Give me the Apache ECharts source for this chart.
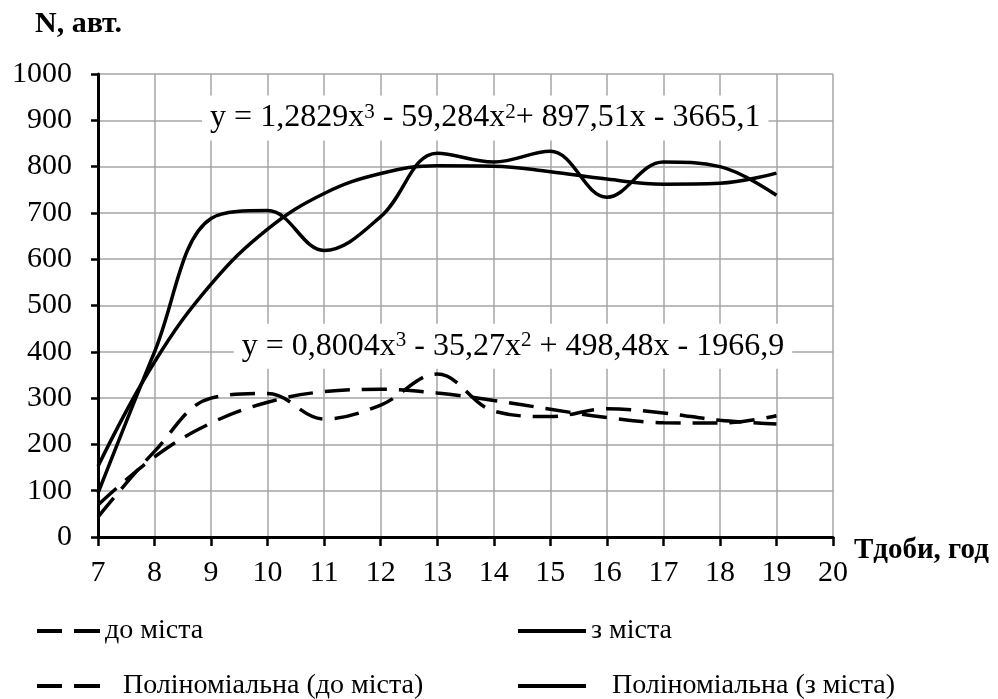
<!DOCTYPE html>
<html>
<head>
<meta charset="utf-8">
<script src="https://cdn.jsdelivr.net/npm/echarts@6/dist/echarts.min.js"></script>
<style>
html,body{margin:0;padding:0;background:#fff;}
#chart{width:998px;height:699px;}
</style>
</head>
<body>
<div id="chart"></div>
<script>
// ---- data ----
const hours = [7, 8, 9, 10, 11, 12, 13, 14, 15, 16, 17, 18, 19];
const toCity = [43, 185, 300, 310, 255, 285, 352, 272, 260, 277, 268, 252, 244];
const fromCity = [95, 400, 688, 705, 619, 692, 829, 810, 833, 734, 810, 800, 738];
const trendToCity = [69, 173, 246, 291, 314, 319, 311, 295, 276, 258, 247, 246, 262];
const trendFromCity = [153, 378, 546, 665, 742, 785, 802, 801, 789, 773, 762, 764, 786];
const seriesNames = ['до міста', 'з міста', 'Поліноміальна (до міста)', 'Поліноміальна (з міста)'];
const yTitle = 'N, авт.';
const xTitle = 'Тдоби, год';

const FONT = '"Liberation Serif", "Times New Roman", serif';
const pairs = arr => hours.map((h, i) => [h, arr[i]]);

const chart = echarts.init(document.getElementById('chart'), null, {renderer: 'canvas'});

const lineW = 3.5;
const dash = [25, 12];
function lineSeries(name, arr, dashed, smooth) {
  return {
    name: name,
    type: 'line',
    data: pairs(arr),
    smooth: smooth,
    symbol: 'none',
    showSymbol: false,
    lineStyle: {color: '#000', width: lineW, type: dashed ? dash : 'solid'},
    itemStyle: {color: '#000'},
    emphasis: {disabled: true},
    z: 3
  };
}

const legendText = {fontFamily: FONT, fontSize: 28, color: '#000'};
const dashIcon = 'path://M0,0h25v4h-25zM37,0h26v4h-26z';
const solidIcon = 'path://M0,0h68v4h-68z';

const option = {
  backgroundColor: '#fff',
  animation: false,
  title: {
    text: yTitle, left: 30, top: 4,
    textStyle: {fontFamily: FONT, fontSize: 30, fontWeight: 'bold', color: '#000'}
  },
  grid: {left: 98, right: 165, top: 74, bottom: 162, containLabel: false},
  xAxis: {
    type: 'value', min: 7, max: 20, interval: 1,
    name: xTitle, nameLocation: 'end', nameGap: 6,
    nameTextStyle: {fontFamily: FONT, fontSize: 29, fontWeight: 'bold', color: '#000',
      align: 'left', verticalAlign: 'top', padding: [-1, 0, 0, 0]},
    axisLine: {show: true, onZero: false, lineStyle: {color: '#000', width: 3}},
    axisTick: {show: true, length: 9, lineStyle: {color: '#000', width: 2.5}},
    axisLabel: {fontFamily: FONT, fontSize: 30, color: '#000', margin: 21},
    splitLine: {show: true, lineStyle: {color: '#a6a6a6', width: 1.5}}
  },
  yAxis: {
    type: 'value', min: 0, max: 1000, interval: 100,
    axisLine: {show: true, lineStyle: {color: '#000', width: 3}},
    axisTick: {show: true, length: 7, lineStyle: {color: '#000', width: 2.5}},
    axisLabel: {fontFamily: FONT, fontSize: 30, color: '#000', margin: 26, formatter: v => String(v)},
    splitLine: {show: true, lineStyle: {color: '#a6a6a6', width: 1.5}}
  },
  legend: [
    {data: [{name: seriesNames[0], icon: dashIcon}], left: 37, top: 617, padding: 0, itemWidth: 63, itemHeight: 4,
      textStyle: Object.assign({}, legendText, {padding: [5, 0, 0, 0]}), selectedMode: false, itemStyle: {borderWidth: 0}},
    {data: [{name: seriesNames[1], icon: solidIcon}], left: 518, top: 617, padding: 0, itemWidth: 68, itemHeight: 4,
      textStyle: Object.assign({}, legendText, {padding: [5, 0, 0, 0]}), selectedMode: false, itemStyle: {borderWidth: 0}},
    {data: [{name: seriesNames[2], icon: dashIcon}], left: 37, top: 672, padding: 0, itemWidth: 63, itemHeight: 4,
      textStyle: Object.assign({}, legendText, {padding: [0, 0, 0, 18]}), selectedMode: false, itemStyle: {borderWidth: 0}},
    {data: [{name: seriesNames[3], icon: solidIcon}], left: 518, top: 672, padding: 0, itemWidth: 70, itemHeight: 4,
      textStyle: Object.assign({}, legendText, {padding: [0, 0, 0, 20]}), selectedMode: false, itemStyle: {borderWidth: 0}}
  ],
  series: [
    lineSeries(seriesNames[0], toCity, true, 0.38),
    lineSeries(seriesNames[1], fromCity, false, 0.38),
    lineSeries(seriesNames[2], trendToCity, true, 0.4),
    lineSeries(seriesNames[3], trendFromCity, false, 0.4)
  ]
};
chart.setOption(option);

// equation labels (rich text with superscripts), anchored in data coordinates
const p1 = chart.convertToPixel({gridIndex: 0}, [13.85, 905]);
const p2 = chart.convertToPixel({gridIndex: 0}, [14.34, 412]);
const eqFromCity = 'y = 1,2829x{s|3} - 59,284x{s|2}+ 897,51x - 3665,1';
const eqToCity = 'y = 0,8004x{s|3} - 35,27x{s|2} + 498,48x - 1966,9';
function eqText(txt, p) {
  return {
    type: 'text', x: p[0], y: p[1], z: 1,
    style: {
      text: txt, fontFamily: FONT, fontSize: 32, fill: '#000',
      align: 'center', verticalAlign: 'middle',
      backgroundColor: '#fff', padding: [6, 8, 6, 8],
      rich: {
        s: {fontFamily: FONT, fontSize: 21, fill: '#000', verticalAlign: 'top', padding: [0, 0, 12, 0]}
      }
    }
  };
}
chart.setOption({graphic: [eqText(eqFromCity, p1), eqText(eqToCity, p2)]});
</script>
</body>
</html>
